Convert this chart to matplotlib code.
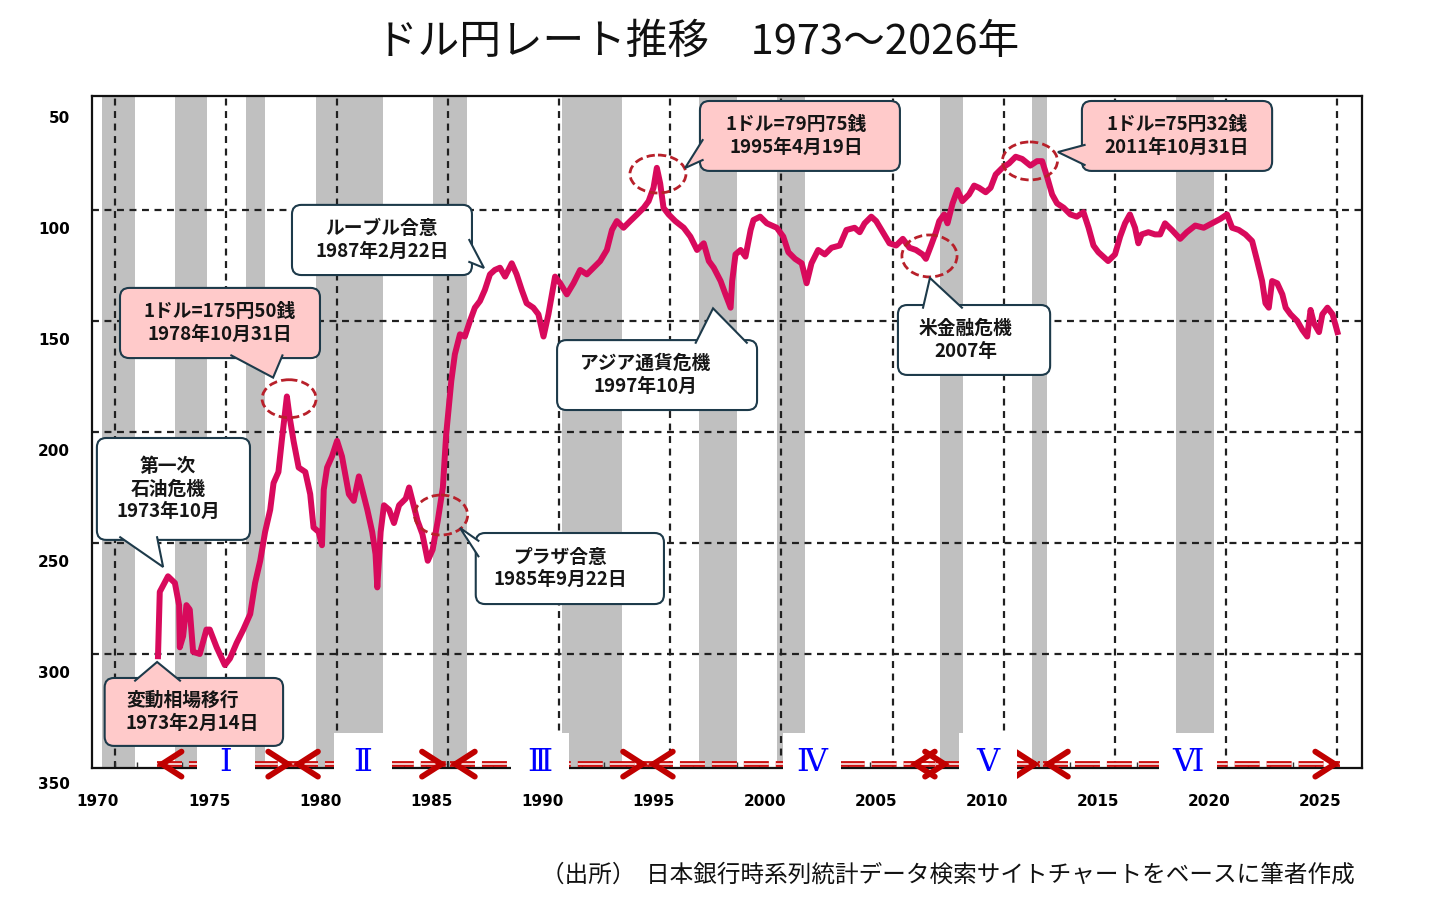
import matplotlib
matplotlib.use("Agg")
import matplotlib.pyplot as plt
import numpy as np
from matplotlib.patches import FancyBboxPatch, Ellipse, Polygon, Rectangle
from matplotlib.transforms import ScaledTranslation

plt.rcParams['font.family'] = ['Noto Sans CJK JP', 'DejaVu Sans']
plt.rcParams['lines.scale_dashes'] = False

# USD/JPY (year, yen per dollar)
years = [1972.70, 1972.78, 1973.15, 1973.46, 1973.65, 1973.68, 1973.83, 1973.98, 1974.13, 1974.28,
         1974.58, 1974.88, 1975.03, 1975.34, 1975.71, 1975.94, 1976.24, 1976.54, 1976.85, 1977.07,
         1977.30, 1977.52, 1977.75, 1977.90, 1978.12, 1978.27, 1978.50, 1978.62, 1978.80, 1979.03,
         1979.33, 1979.55, 1979.70, 1979.93, 1980.08, 1980.16, 1980.31, 1980.53, 1980.76, 1980.98,
         1981.29, 1981.51, 1981.74, 1981.89, 1982.12, 1982.34, 1982.49, 1982.57, 1982.72, 1982.87,
         1983.10, 1983.32, 1983.55, 1983.85, 1984.00, 1984.15, 1984.38, 1984.60, 1984.84, 1985.06,
         1985.29, 1985.52, 1985.67, 1985.90, 1986.06, 1986.29, 1986.51, 1986.74, 1986.96, 1987.19,
         1987.41, 1987.64, 1987.86, 1988.09, 1988.32, 1988.62, 1988.84, 1989.07, 1989.29, 1989.59,
         1989.82, 1990.05, 1990.27, 1990.57, 1990.80, 1991.10, 1991.40, 1991.70, 1992.00, 1992.30,
         1992.60, 1992.90, 1993.13, 1993.35, 1993.65, 1993.95, 1994.26, 1994.56, 1994.78, 1995.00,
         1995.15, 1995.30, 1995.45, 1995.68, 1995.98, 1996.36, 1996.66, 1996.96, 1997.26, 1997.49,
         1997.71, 1998.02, 1998.24, 1998.47, 1998.54, 1998.69, 1998.92, 1999.14, 1999.37, 1999.50,
         1999.80, 2000.10, 2000.55, 2000.84, 2001.07, 2001.37, 2001.67, 2001.89, 2002.11, 2002.41,
         2002.71, 2003.01, 2003.38, 2003.68, 2004.05, 2004.28, 2004.50, 2004.80, 2005.02, 2005.32,
         2005.62, 2005.92, 2006.22, 2006.52, 2006.81, 2007.11, 2007.26, 2007.49, 2007.71, 2007.86,
         2008.08, 2008.23, 2008.46, 2008.68, 2008.90, 2009.20, 2009.43, 2009.65, 2009.95, 2010.17,
         2010.40, 2010.70, 2011.00, 2011.30, 2011.59, 2011.96, 2012.26, 2012.49, 2012.71, 2012.94,
         2013.16, 2013.46, 2013.76, 2014.05, 2014.35, 2014.58, 2014.80, 2015.02, 2015.24, 2015.46,
         2015.77, 2016.00, 2016.22, 2016.44, 2016.67, 2016.82, 2016.97, 2017.27, 2017.57, 2017.80,
         2018.02, 2018.33, 2018.70, 2019.00, 2019.38, 2019.76, 2020.13, 2020.51, 2020.81, 2021.04,
         2021.34, 2021.64, 2021.94, 2022.17, 2022.39, 2022.54, 2022.69, 2022.84, 2023.07, 2023.30,
         2023.45, 2023.67, 2023.97, 2024.20, 2024.42, 2024.57, 2024.72, 2024.95, 2025.10, 2025.33,
         2025.56, 2025.78]
rates = [301, 272, 265, 268, 278, 297, 292, 278, 280, 299,
         300, 289, 289, 297, 305, 302, 295, 289, 282, 268,
         258, 245, 235, 223, 218, 204, 184, 193, 204, 216,
         218, 228, 243, 245, 251, 226, 216, 211, 204, 211,
         228, 231, 220, 226, 235, 245, 255, 270, 245, 233,
         235, 241, 233, 230, 225, 231, 240, 246, 258, 253,
         240, 225, 201, 177, 165, 156, 157, 150, 144, 141,
         136, 129, 127, 126, 130, 124, 129, 136, 142, 144,
         147, 157, 147, 130, 133, 138, 133, 127, 129, 126,
         123, 118, 109, 105, 108, 105, 102, 99, 96, 90,
         81, 88, 99, 102, 105, 108, 112, 118, 115, 123,
         126, 132, 138, 144, 132, 120, 118, 121, 109, 104.5,
         103, 106, 108, 112, 119, 122, 124, 133, 124, 118,
         120, 117, 116, 109, 108, 110, 106, 103, 105, 110,
         115, 116, 113, 117, 118, 120, 122, 116, 110, 105,
         102, 106, 97, 91, 96, 93, 89, 90, 92, 90,
         84, 81, 79, 76, 77, 80, 78, 78, 85, 93,
         97, 99, 102, 103, 101, 108, 116, 119, 121, 123,
         120, 112, 106, 102, 108, 115, 111, 110, 111, 111,
         106, 109, 113, 110, 107, 108, 106, 104, 102, 108,
         109, 111, 114, 123, 132, 142, 144, 132, 133, 138,
         144, 147, 150, 154, 157, 145, 151, 155, 147, 144,
         147, 155]

# shaded periods (Japanese recessions), start / end year
band_start = [1970.18, 1973.47, 1976.66, 1979.81, 1985.08, 1990.88, 1997.05, 2000.56, 2007.89, 2012.03, 2018.51]
band_end = [1971.67, 1974.91, 1977.52, 1982.83, 1986.61, 1993.58, 1998.76, 2001.82, 2008.93, 2012.71, 2020.22]

# phases I-VI shown along the bottom
phase_labels = ['Ⅰ', 'Ⅱ', 'Ⅲ', 'Ⅳ', 'Ⅴ', 'Ⅵ']
phase_start = [1972.64, 1978.78, 1985.84, 1994.75, 2006.54, 2012.53]
phase_end = [1978.78, 1985.70, 1994.75, 2008.34, 2012.40, 2025.90]
phase_mid = [1975.76, 1981.93, 1989.89, 2002.13, 2010.05, 2019.05]

xtick_years = list(range(1970, 2030, 5))
ytick_vals = [50, 100, 150, 200, 250, 300, 350]

W, H = 1453, 905
fig = plt.figure(figsize=(W / 100, H / 100), dpi=100)
ax = fig.add_axes([92 / W, 1 - 768 / H, (1362 - 92) / W, (768 - 96) / H])
ax.set_xlim(1969.73, 2026.885)
ax.set_ylim(351.35, 48.65)
ASP = 10.0  # y-units per x-unit for equal pixels

for s, e in zip(band_start, band_end):
    ax.axvspan(s, e, color='#c0c0c0', lw=0, zorder=0)

grid_kw = dict(color='#202020', lw=1.6, dashes=(5, 4), zorder=1)
for v in [100, 150, 200, 250, 300]:
    ax.axhline(v, **grid_kw)
for yr in xtick_years:
    ax.axvline(yr + 0.76, **grid_kw)

ax.plot(years, rates, color='#d80a5c', lw=4.3, solid_joinstyle='round', zorder=3)

# ticks
ax.set_xticks(xtick_years)
ax.set_xticklabels([str(y) for y in xtick_years])
ax.set_xticks(np.arange(1970, 2026) + 0.76, minor=True)
ax.tick_params(axis='x', which='major', length=0, pad=19)
ax.tick_params(axis='x', which='minor', direction='in', length=4, width=1, color='#333333')
ax.set_yticks(ytick_vals)
ax.tick_params(axis='y', length=0, pad=16)
for lbl in ax.get_xticklabels() + ax.get_yticklabels():
    lbl.set_family(['Liberation Sans Narrow', 'DejaVu Sans'])
    lbl.set_fontweight('bold')
    lbl.set_fontsize(11)
for lbl in ax.get_yticklabels():
    lbl.set_transform(lbl.get_transform() + ScaledTranslation(0, -0.18, fig.dpi_scale_trans))
for sp in ax.spines.values():
    sp.set_linewidth(1.6)
    sp.set_color('#111111')

# dashed red circles around key points
circles = [(1978.6, 185, 2.43, 17.1), (1985.44, 237.4, 2.39, 18.0), (1995.2, 83.8, 2.52, 17.1),
           (2007.42, 120.7, 2.48, 18.9), (2011.94, 77.9, 2.48, 17.1)]
for cx, cy, w, h in circles:
    ax.add_patch(Ellipse((cx, cy), w, h, fill=False, ec='#b8202a', lw=2, ls=(0, (6, 3)), zorder=4))

# callouts
EC = '#1d3a4a'
PINK = '#ffcaca'


def callout(box, side, base, tip, text, fc, tx=None, ha='center'):
    x0, x1, vt, vb = box
    ax.add_patch(FancyBboxPatch((x0, vt), x1 - x0, vb - vt,
                                boxstyle='round,pad=0,rounding_size=0.42', mutation_aspect=ASP,
                                fc=fc, ec=EC, lw=1.5, zorder=6, clip_on=False))
    a, b = base
    if side == 'bottom':
        p1, p2 = (a, vb - 1.2), (b, vb - 1.2)
    elif side == 'top':
        p1, p2 = (a, vt + 1.2), (b, vt + 1.2)
    elif side == 'left':
        p1, p2 = (x0 + 0.12, a), (x0 + 0.12, b)
    else:
        p1, p2 = (x1 - 0.12, a), (x1 - 0.12, b)
    ax.add_patch(Polygon([p1, tip, p2], closed=True, fc=fc, ec='none', zorder=7))
    ax.plot([p1[0], tip[0], p2[0]], [p1[1], tip[1], p2[1]], color=EC, lw=1.5, zorder=7,
            solid_joinstyle='miter')
    if tx is None:
        tx = (x0 + x1) / 2
    ax.text(tx, (vt + vb) / 2, text, ha=ha, va='center', multialignment=ha, fontsize=13.5,
            fontweight='bold', color='#151515', linespacing=1.25, zorder=8)


callout((1970.99, 1979.99, 135.1, 166.7), 'bottom', (1976.0, 1978.3), (1977.88, 175.5),
        '1ドル=175円50銭\n1978年10月31日', PINK)
callout((1969.95, 1976.84, 202.7, 248.6), 'bottom', (1971.0, 1972.66), (1972.93, 260.8),
        '第一次\n石油危機\n1973年10月', 'white', tx=1973.15)
callout((1970.3, 1978.33, 310.8, 341.4), 'top', (1971.67, 1973.69), (1972.66, 303.6),
        '変動相場移行\n1973年2月14日', PINK, tx=1971.26, ha='left')
callout((1978.73, 1986.83, 97.7, 129.3), 'right', (113.5, 123.4), (1987.37, 126.1),
        'ルーブル合意\n1987年2月22日', 'white')
callout((1987.0, 1995.47, 245.5, 277.5), 'left', (249.0, 256.0), (1986.29, 243.2),
        'プラザ合意\n1985年9月22日', 'white', tx=1990.79)
callout((1990.66, 1999.66, 158.6, 190.1), 'top', (1996.9, 1999.2), (1997.68, 144.3),
        'アジア通貨危機\n1997年10月', 'white', tx=1994.62)
callout((1997.09, 2006.09, 50.9, 82.4), 'left', (68.5, 77.5), (1996.42, 81.1),
        '1ドル=79円75銭\n1995年4月19日', PINK, tx=2001.41)
callout((2006.0, 2012.85, 142.8, 174.3), 'top', (2007.13, 2008.88), (2007.44, 130.6),
        '米金融危機\n2007年', 'white', tx=2009.06)
callout((2014.28, 2022.84, 50.9, 82.4), 'left', (70.7, 79.7), (2013.2, 73.9),
        '1ドル=75円32銭\n2011年10月31日', PINK)

# phase arrows along the bottom
ARROW = '#c00000'
for s, e in zip(phase_start, phase_end):
    ax.plot([s, e], [349.6, 349.6], color='#cc1111', lw=4.2, dashes=(18, 5), zorder=4,
            solid_capstyle='butt', dash_capstyle='butt')
    ax.plot([s, e], [349.6, 349.6], color='white', lw=1.1, dashes=(18, 5), zorder=4.1,
            dash_capstyle='butt')
    for tip, d in ((s, 0.3), (e, -0.3)):
        ax.annotate('', xy=(tip, 349.6), xytext=(tip + d, 349.6),
                    arrowprops=dict(arrowstyle='->,head_length=0.7,head_width=0.45', lw=4.2,
                                    color=ARROW, shrinkA=0, shrinkB=0, mutation_scale=20,
                                    joinstyle='miter'),
                    zorder=4.2, annotation_clip=False)

for lab, xm in zip(phase_labels, phase_mid):
    ax.add_patch(Rectangle((xm - 1.3, 335.6), 2.6, 21.5, fc='white', ec='none', zorder=5,
                           clip_on=False))
    ax.text(xm, 349.0, lab, ha='center', va='center', fontsize=23, color='#0000ff',
            family=['DejaVu Serif', 'Noto Sans CJK JP'], zorder=5.5, clip_on=False)

fig.text(698 / W, 1 - 42 / H, 'ドル円レート推移\u30001973～2026年', ha='center', va='center',
         fontsize=30, color='#111111')
fig.text(1355 / W, 1 - 875 / H, '（出所）  日本銀行時系列統計データ検索サイトチャートをベースに筆者作成',
         ha='right', va='center', fontsize=17, color='#111111')

fig.savefig('out.png', dpi=100)
